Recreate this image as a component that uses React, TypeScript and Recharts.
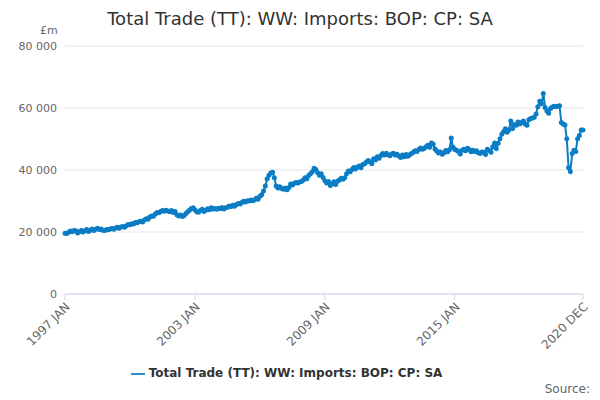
import { LineChart, Line, XAxis, YAxis, CartesianGrid, Legend } from 'recharts';

const months = ['JAN', 'FEB', 'MAR', 'APR', 'MAY', 'JUN', 'JUL', 'AUG', 'SEP', 'OCT', 'NOV', 'DEC'];
const startYear = 1997;

// £m, monthly, one row per year 1997..2020
const v1997 = [19600, 19500, 19900, 20300, 20100, 20500, 20400, 19700, 20100, 20500, 20000, 20400];
const v1998 = [20800, 20200, 20600, 21000, 20500, 20900, 21200, 20800, 21000, 20600, 20500, 20800];
const v1999 = [20700, 21000, 21100, 20900, 21300, 21500, 21200, 21600, 21800, 21500, 22000, 22400];
const v2000 = [22300, 22700, 22600, 23100, 23000, 23300, 23500, 23200, 23900, 24300, 24100, 24800];
const v2001 = [25200, 25100, 25800, 26300, 26200, 26600, 26900, 26700, 27000, 26800, 26500, 26900];
const v2002 = [26300, 26600, 25600, 25200, 25500, 25000, 25300, 26000, 26500, 27000, 27600, 27800];
const v2003 = [27200, 26500, 26400, 26900, 27300, 26600, 27000, 27500, 27200, 27800, 27400, 27600];
const v2004 = [27300, 27700, 27500, 27900, 27400, 27800, 28000, 28400, 28200, 28600, 28300, 28900];
const v2005 = [29200, 29000, 29500, 29900, 29700, 30100, 30000, 30300, 30100, 30400, 30900, 30600];
const v2006 = [31500, 32000, 33200, 34800, 37200, 38300, 39000, 39300, 37500, 34800, 34200, 34600];
const v2007 = [34000, 33800, 34200, 33600, 34300, 35500, 35200, 35700, 36000, 35800, 36100, 36300];
const v2008 = [36800, 37500, 37200, 38200, 38800, 39400, 40600, 40200, 39100, 38300, 38800, 37600];
const v2009 = [36500, 35800, 36300, 35000, 35500, 36200, 35300, 36400, 36800, 37300, 37000, 37500];
const v2010 = [38800, 39700, 39400, 40200, 40800, 40300, 41000, 41300, 40700, 41800, 42000, 42600];
const v2011 = [43100, 42700, 42000, 43600, 43200, 44300, 43800, 44700, 45300, 44800, 45400, 44900];
const v2012 = [44600, 45200, 45400, 44800, 45100, 44500, 44000, 44800, 44300, 45000, 44400, 44900];
const v2013 = [45300, 45700, 46200, 46000, 46600, 47100, 46700, 46900, 47500, 48000, 47300, 48700];
const v2014 = [48300, 46800, 46100, 45500, 45800, 45100, 45600, 46300, 45900, 46500, 50300, 47300];
const v2015 = [46600, 46400, 46000, 45200, 46400, 46700, 46200, 47000, 46600, 45900, 46400, 46000];
const v2016 = [46200, 45600, 45300, 45800, 45700, 45000, 46700, 46300, 45700, 47500, 48700, 46900];
const v2017 = [48600, 50100, 51500, 52400, 53300, 52200, 53000, 55800, 53400, 54700, 54400, 55500];
const v2018 = [54800, 55300, 55800, 54800, 54400, 56200, 56600, 56800, 57000, 58100, 60400, 62200];
const v2019 = [61400, 64700, 60200, 59000, 58300, 59800, 60300, 60600, 60400, 60600, 60700, 55300];
const v2020 = [54800, 54500, 50100, 40700, 39500, 45300, 46400, 46000, 50100, 51100, 52900, 52900];

const years = [v1997, v1998, v1999, v2000, v2001, v2002, v2003, v2004, v2005, v2006, v2007, v2008,
  v2009, v2010, v2011, v2012, v2013, v2014, v2015, v2016, v2017, v2018, v2019, v2020];

const xTicks = ['1997 JAN', '2003 JAN', '2009 JAN', '2015 JAN', '2020 DEC'];
const yTicks = [0, 20000, 40000, 60000, 80000];
const seriesName = 'Total Trade (TT): WW: Imports: BOP: CP: SA';

const data = years.flatMap((vals, yi) =>
  vals.map((value, mi) => ({ period: `${startYear + yi} ${months[mi]}`, value })),
);

const font = '"DejaVu Sans", sans-serif';
const fmt = (v: number) => v.toLocaleString('en-US').replace(/,/g, ' ');

const AngledTick = ({ x, y, payload }: any) => (
  <text x={x} y={y} dy={8} textAnchor="end" transform={`rotate(-45 ${x} ${y})`} fontSize={12} fill="#666" fontFamily={font}>
    {payload.value}
  </text>
);

export default function App() {
  return (
    <div style={{ position: 'absolute', top: 0, left: 0, width: 600, height: 400, background: '#fff', fontFamily: font }}>
      <div style={{ position: 'absolute', top: 8, width: 600, textAlign: 'center', fontSize: 18, color: '#333' }}>{seriesName}</div>
      <div style={{ position: 'absolute', top: 24, left: 40, fontSize: 11, color: '#666' }}>£m</div>
      <div style={{ position: 'absolute', top: 382, right: 10, fontSize: 12, color: '#666' }}>Source:</div>
      <LineChart width={600} height={400} data={data} margin={{ top: 46, right: 17, bottom: 0, left: 0 }}>
        <CartesianGrid vertical={false} stroke="#e6e6e6" />
        <XAxis dataKey="period" ticks={xTicks} interval={0} tick={<AngledTick />} tickLine={{ stroke: '#ccd6eb' }} axisLine={{ stroke: '#ccd6eb' }} height={72} />
        <YAxis domain={[0, 80000]} ticks={yTicks} tickFormatter={fmt} width={65} axisLine={false} tickLine={false} tick={{ fontSize: 11, fill: '#666', fontFamily: font }} />
        <Legend verticalAlign="bottom" height={34} iconType="plainline" wrapperStyle={{ fontSize: 12, fontWeight: 'bold', color: '#333', fontFamily: font }}
          formatter={(v) => <span style={{ color: '#333' }}>{v}</span>} />
        <Line dataKey="value" name={seriesName} stroke="#0a7dc5" strokeWidth={2} dot={{ r: 1.5, fill: '#0a7dc5', stroke: '#0a7dc5' }} isAnimationActive={false} />
      </LineChart>
    </div>
  );
}
